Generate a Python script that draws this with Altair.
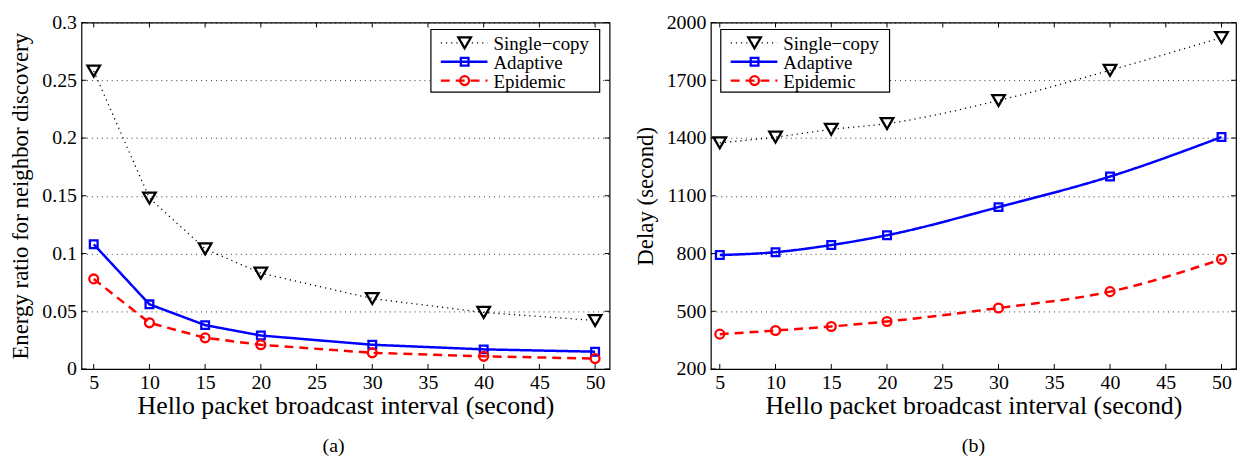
import altair as alt
import pandas as pd

# ---------------- data ----------------
x_vals = [5, 10, 15, 20, 30, 40, 50]
series_names = ["Single\u2212copy", "Adaptive", "Epidemic"]

energy_single = [0.258, 0.148, 0.104, 0.083, 0.061, 0.049, 0.042]
energy_adaptive = [0.108, 0.056, 0.038, 0.029, 0.021, 0.017, 0.015]
energy_epidemic = [0.078, 0.040, 0.027, 0.021, 0.014, 0.011, 0.009]

delay_single = [1375, 1405, 1445, 1475, 1595, 1752, 1922]
delay_adaptive = [792, 807, 844, 895, 1041, 1200, 1405]
delay_epidemic = [381, 400, 421, 447, 517, 602, 770]

x_ticks = [5, 10, 15, 20, 25, 30, 35, 40, 45, 50]
energy_ticks = [0, 0.05, 0.1, 0.15, 0.2, 0.25, 0.3]
delay_ticks = [200, 500, 800, 1100, 1400, 1700, 2000]

x_title = "Hello packet broadcast interval (second)"
energy_title = "Energy ratio for neighbor discovery"
delay_title = "Delay (second)"

# ---------------- styles ----------------
FONT = "Liberation Serif"
colors = ["#000000", "#0000ff", "#ff0000"]
dashes = [[1.2, 4], [1, 0], [9, 6]]
shapes = ["triangle-down", "square", "circle"]
sizes = [160, 60, 80]
widths = [1.3, 2.5, 2.5]
H = 349


def long_df(vals_list):
    rows = []
    for name, vals in zip(series_names, vals_list):
        for x, v in zip(x_vals, vals):
            rows.append({"x": x, "y": v, "series": name})
    return pd.DataFrame(rows)


def panel(vals_list, xdomain, ydomain, yticks, yfmt, ytitle, W, legend_x,
          interp, caption, cap_dx):
    df = long_df(vals_list)
    xs = alt.Scale(domain=xdomain, nice=False, zero=False)
    ys = alt.Scale(domain=ydomain, nice=False, zero=False)
    xaxis = alt.Axis(values=x_ticks, title=x_title, tickSize=0, domain=False,
                     grid=False, labelPadding=4, titlePadding=0,
                     labelFontSize=20, titleFontSize=26)
    yaxis = alt.Axis(values=yticks, title=ytitle, format=yfmt, tickSize=0,
                     domain=False, grid=True, gridDash=[1, 4],
                     gridColor="black", gridOpacity=0.8, gridWidth=1,
                     labelPadding=5, titlePadding=9,
                     labelFontSize=20, titleFontSize=23)

    def X(field):
        return alt.X(field, scale=xs, axis=xaxis)

    def Y(field):
        return alt.Y(field, scale=ys, axis=yaxis)

    layers = []
    for i, name in enumerate(series_names):
        sub = alt.Chart(df).transform_filter(alt.datum.series == name)
        line = sub.mark_line(color=colors[i], strokeDash=dashes[i],
                             strokeWidth=widths[i], interpolate=interp,
                             clip=True).encode(x=X("x:Q"), y=Y("y:Q"))
        layers.append(line)
    for i, name in enumerate(series_names):
        sub = alt.Chart(df).transform_filter(alt.datum.series == name)
        pts = sub.mark_point(shape=shapes[i], filled=False, color=colors[i],
                             size=sizes[i], strokeWidth=2.3, opacity=1).encode(
            x=X("x:Q"), y=Y("y:Q"))
        layers.append(pts)

    # inward ticks (box style)
    xt = pd.DataFrame({"x": x_ticks})
    yt = pd.DataFrame({"y": yticks})
    tk = dict(color="black", strokeWidth=1)
    layers.append(alt.Chart(xt).mark_rule(**tk).encode(
        x=X("x:Q"), y=alt.value(0), y2=alt.value(5)))
    layers.append(alt.Chart(xt).mark_rule(**tk).encode(
        x=X("x:Q"), y=alt.value(H), y2=alt.value(H - 5)))
    layers.append(alt.Chart(yt).mark_rule(**tk).encode(
        y=Y("y:Q"), x=alt.value(0), x2=alt.value(5)))
    layers.append(alt.Chart(yt).mark_rule(**tk).encode(
        y=Y("y:Q"), x=alt.value(W - 5), x2=alt.value(W)))

    # legend box
    lx = legend_x
    layers.append(alt.Chart(pd.DataFrame({"k": [0]})).mark_rect(
        fill="white", stroke="black", strokeWidth=1.2).encode(
        x=alt.value(lx), x2=alt.value(lx + 170),
        y=alt.value(7), y2=alt.value(70)))
    for i, name in enumerate(series_names):
        ry = 20.5 + i * 19
        ldf = pd.DataFrame({"label": [name]})
        layers.append(alt.Chart(ldf).mark_rule(
            color=colors[i], strokeDash=dashes[i], strokeWidth=widths[i]).encode(
            x=alt.value(lx + 10), x2=alt.value(lx + 57), y=alt.value(ry)))
        layers.append(alt.Chart(ldf).mark_point(
            shape=shapes[i], filled=False, color=colors[i], size=sizes[i],
            strokeWidth=2.3, opacity=1).encode(
            x=alt.value(lx + 34), y=alt.value(ry)))
        layers.append(alt.Chart(ldf).mark_text(
            align="left", baseline="middle", font=FONT, fontSize=19,
            color="black").encode(
            x=alt.value(lx + 63), y=alt.value(ry + 1), text="label:N"))

    return alt.layer(*layers).properties(
        width=W, height=H,
        title=alt.TitleParams(caption, orient="bottom", anchor="middle",
                              fontSize=20, font=FONT, fontWeight="normal",
                              offset=18, dx=cap_dx, color="black"))


left = panel([energy_single, energy_adaptive, energy_epidemic],
             [3.9, 51.3], [0, 0.3], energy_ticks, "~g", energy_title,
             532, 352, "linear", "(a)", -12)
right = panel([delay_single, delay_adaptive, delay_epidemic],
              [4.2, 51.3], [200, 2000], delay_ticks, "d", delay_title,
              529, 10, "monotone", "(b)", 0)

chart = alt.hconcat(left, right, spacing=22).properties(
    padding={"left": 1, "top": 2, "right": 0, "bottom": 0}
).configure(
    font=FONT, background="white"
).configure_view(
    stroke="black", strokeWidth=1.2
).configure_axis(
    labelFont=FONT, titleFont=FONT, labelColor="black", titleColor="black",
    titleFontWeight="normal"
)

chart.save("out.html", embed_options={"renderer": "svg", "actions": False})
